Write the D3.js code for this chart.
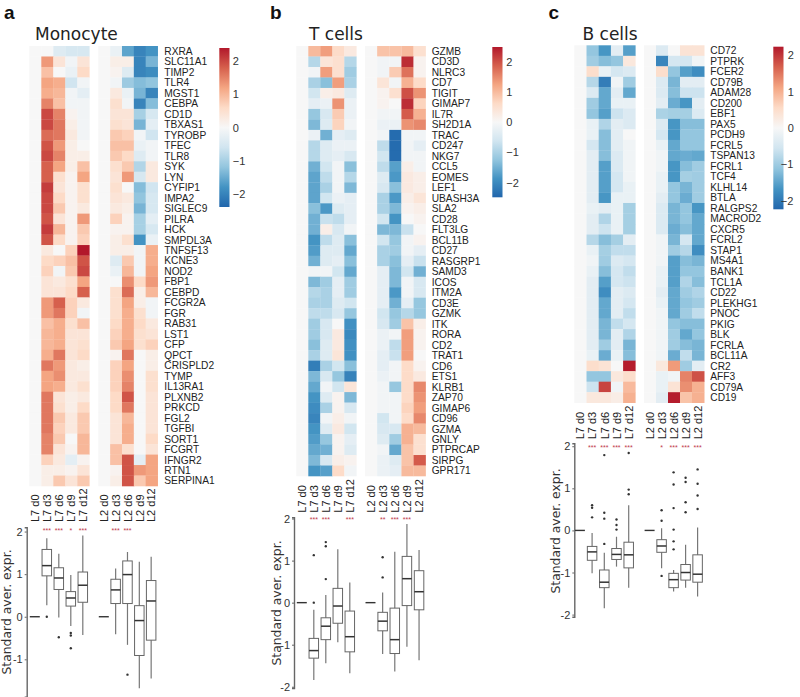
<!DOCTYPE html>
<html>

<head>
    <meta charset="utf-8">
    <script src="https://d3js.org/d3.v7.min.js"></script>

    <style type="text/css">
        body {
            margin: 0;
            background: white;
        }

        .gene {
            font-family: "Liberation Sans", sans-serif;
            font-size: 10.2px;
            fill: #222;
        }

        .title {
            font-family: "DejaVu Sans", sans-serif;
            font-size: 17px;
            fill: #222;
        }

        .letter {
            font-family: "Liberation Sans", sans-serif;
            font-size: 19px;
            font-weight: bold;
            fill: #111;
        }

        .ylabel {
            font-family: "DejaVu Sans", sans-serif;
            font-size: 12.4px;
            fill: #333;
        }

        .sample {
            font-family: "Liberation Sans", sans-serif;
            font-size: 11px;
            fill: #222;
        }

        .stars {
            font-family: "Liberation Sans", sans-serif;
            font-size: 7px;
            fill: #c0394b;
            text-anchor: middle;
        }

        .axis text {
            font-family: "Liberation Sans", sans-serif;
            font-size: 11px;
            fill: #333;
        }

        .axis path,
        .axis line {
            stroke: #666;
        }
    </style>
</head>

<body>
    <script>
        var days = ["d0", "d3", "d6", "d9", "d12"];
        var bars = [-2, -1, 0, 1, 2];

        // 9 class RdBu, low to high
        var heatColors = ["#2166ac", "#4393c3", "#92c5de", "#d1e5f0", "#f7f7f7", "#fddbc7", "#f4a582", "#d6604d", "#b2182b"];

        var genesMono = ["RXRA", "SLC11A1", "TIMP2", "TLR4", "MGST1", "CEBPA", "CD1D", "TBXAS1", "TYROBP", "TFEC", "TLR8", "SYK", "LYN", "CYFIP1", "IMPA2", "SIGLEC9", "PILRA", "HCK", "SMPDL3A", "TNFSF13", "KCNE3", "NOD2", "FBP1", "CEBPD", "FCGR2A", "FGR", "RAB31", "LST1", "CFP", "QPCT", "CRISPLD2", "TYMP", "IL13RA1", "PLXNB2", "PRKCD", "FGL2", "TGFBI", "SORT1", "FCGRT", "IFNGR2", "RTN1", "SERPINA1"];

        // L7 d0..d12 then L2 d0..d12
        var heatMono = [
            [0, 0, -.4, -.5, -.5, 0, -.2, -1.6, -2, -1.8],
            [0, 1.3, .4, -.1, .4, 0, .2, .2, -2, -1.4],
            [0, .9, 0, -.2, .6, 0, .1, -.4, -2, -1.9],
            [0, 1.2, 1.1, -.6, -.1, 0, -.1, -1.1, -1.3, -1.2],
            [0, 1.1, 1, -.1, -.3, 0, .3, -.2, -1.4, -2],
            [0, 1.5, .9, -.1, -.1, 0, .5, -.1, -2, -1.3],
            [0, 2, 1.5, .1, -.1, 0, .4, .4, -1, -.5],
            [0, 2, 1.6, .2, -.1, 0, .5, .4, -1.4, -.3],
            [0, 1.7, 1.6, .3, -.1, 0, .8, .7, -.1, -.6],
            [0, 1.9, 1.3, .2, 0, 0, .9, .9, -.2, -.1],
            [0, 2, 1.5, .2, .2, 0, .8, .6, -.4, -.1],
            [0, 1.8, 1.2, .2, .9, 0, .5, .8, -.9, .3],
            [0, 1.8, .5, .1, 1.2, 0, .4, 1.3, -.5, .3],
            [0, 2.1, .4, .1, .5, 0, .5, 0, -1.3, -.6],
            [0, 2, .6, .1, .5, 0, .4, .3, -1.2, -.5],
            [0, 2, .8, .1, .3, 0, .3, .2, -1.4, -.5],
            [0, 1.9, .4, .1, 1.3, 0, .7, .1, -1, -.3],
            [0, 2.1, 1, .1, .8, 0, .1, .1, -1, -.5],
            [0, 1.9, .6, .1, .7, 0, .2, .5, -1.8, -.2],
            [0, .3, 0, .7, 2.4, 0, .2, .2, -.1, 1.1],
            [0, .6, .7, .9, 1.9, 0, -.4, .8, -.1, 1.1],
            [0, .7, -.1, .8, 2, 0, -.2, 1, -.1, 1.2],
            [0, .4, .3, .5, 1.2, 0, 0, 1.4, .6, 1.3],
            [0, .4, .4, .6, 1.8, 0, .5, 1.7, .2, 1],
            [0, 1.3, 1.8, .7, .3, 0, .5, 1.2, .2, -.1],
            [0, 1.3, 1.6, .7, -.1, 0, .5, 1.1, .5, -.1],
            [0, .9, 1.1, .5, .9, 0, .6, 1.1, .6, .3],
            [0, 1, 1.1, .4, .4, 0, .7, 1.1, .5, .4],
            [0, 1, 1.1, .4, .5, 0, .8, 1.2, .5, .7],
            [0, 1.1, 1.6, .4, .6, 0, .1, 1.6, 0, .2],
            [0, 1.6, 1.3, .3, .2, 0, .7, 1.2, 0, .2],
            [0, 1.2, 1.4, .3, .3, 0, .7, 1.4, 0, .5],
            [0, 1.2, 1.1, .3, .5, 0, .7, 1.5, 0, .5],
            [0, 1.6, .4, .2, .3, 0, .6, 1.9, 0, .4],
            [0, 1.6, .5, .2, .6, 0, .6, 1.6, 0, .4],
            [0, 1.6, .8, .3, .8, 0, .4, 1, 0, .4],
            [0, 1.6, .7, .3, .8, 0, .4, 1.1, 0, .4],
            [0, 1.5, .8, 0, 1, 0, .4, 1.1, 0, .6],
            [0, 1.5, .4, .1, 1, 0, .9, .5, 0, .4],
            [0, .7, .3, -.3, .1, 0, .9, 1.9, -.3, 1.2],
            [0, .2, .2, .1, .4, 0, .1, 1.9, 1.3, 1.2],
            [0, .2, .8, .4, .8, 0, .2, 1.9, .8, 1.2]
        ];

        var genesT = ["GZMB", "CD3D", "NLRC3", "CD7", "TIGIT", "GIMAP7", "IL7R", "SH2D1A", "TRAC", "CD247", "NKG7", "CCL5", "EOMES", "LEF1", "UBASH3A", "SLA2", "CD28", "FLT3LG", "BCL11B", "CD27", "RASGRP1", "SAMD3", "ICOS", "ITM2A", "CD3E", "GZMK", "ITK", "RORA", "CD2", "TRAT1", "CD6", "ETS1", "KLRB1", "ZAP70", "GIMAP6", "CD96", "GZMA", "GNLY", "PTPRCAP", "SIRPG", "GPR171"];

        var heatT = [
            [0, 1, 1.3, .6, .3, 0, .9, .9, 1, .5],
            [0, -.9, .4, .5, -.9, 0, -.1, -.1, 2.3, .1],
            [0, -.1, 1.3, .5, -1.1, 0, -.1, .8, 1.7, .1],
            [0, -1, -1.3, 1.3, -1, 0, .4, -.1, 1.1, .6],
            [0, -.6, .2, .3, -.4, 0, .1, .5, 2, 1.4],
            [0, -.3, -.2, 1.4, -.2, 0, .1, 0, 2.3, .7],
            [0, -1.2, -.5, .8, -.2, 0, -.1, -.1, 1.9, 1.1],
            [0, -1.4, -.4, .7, -.1, 0, -.2, -.2, 1.4, 1.5],
            [0, -.2, -1.5, -.3, -.4, 0, -.1, -2.4, -.1, -.1],
            [0, -.9, -.4, -.2, -.2, 0, -.8, -2.4, -.1, -.3],
            [0, -.9, -.4, -.3, -.5, 0, -.6, -2.4, -.1, -.1],
            [0, -1.5, -.6, -.1, -1.3, 0, -.8, -1.7, .2, -.1],
            [0, -1.65, -.8, -.1, -.9, 0, -.4, -1.8, .3, .2],
            [0, -1.65, -1, -.1, -1.4, 0, -.5, -1.3, .3, .2],
            [0, -1.65, -.6, -.2, -.3, 0, -1, -1.8, .2, .4],
            [0, -1.3, -1.8, -.4, -.3, 0, -1, -1.4, .1, .2],
            [0, -1.5, -.7, -.8, -.3, 0, -.6, -1.85, 0, .1],
            [0, -1.5, .2, -.5, -.1, 0, -1.4, -1.4, -.7, 0],
            [0, -1.85, -.8, -.4, -1.3, 0, -.6, -1.2, -.1, .1],
            [0, -1.75, -.4, -.4, -1.6, 0, -1, -1.1, -.1, -.3],
            [0, -1.5, -.4, -.3, -1.3, 0, -1, -1.3, -.3, -.7],
            [0, -.1, -.1, -.6, -1.6, 0, -.3, -1.4, -.6, -1.5],
            [0, -1.4, -1.1, -.3, -1.1, 0, -.3, -1.4, -.1, -.5],
            [0, -.9, -1, -.3, -1.1, 0, -.3, -1.8, -.1, -.5],
            [0, -1, -1, -.4, -.6, 0, -.3, -1.5, -.3, -1.2],
            [0, -.8, -.8, -.5, -1.2, 0, -.6, -1.2, -.9, -1.2],
            [0, -1.1, -.5, 0, -1.9, 0, -.5, -1.1, .9, .2],
            [0, -1.1, -.5, .3, -2, 0, -.2, -.1, 1.3, .1],
            [0, -1.3, -.4, .3, -1.9, 0, -.2, -.8, 1.3, .1],
            [0, -1, -.4, .4, -1.9, 0, -.3, -.7, 1.3, 0],
            [0, -2.15, -1, -.6, -1.3, 0, -.3, -.1, .6, .1],
            [0, -1.4, -.5, -1.2, -2.1, 0, -.2, -.1, .6, .3],
            [0, -1.6, -.1, -.6, .4, 0, -.1, -1.2, .6, 1.5],
            [0, -1.85, -.4, .1, -1.4, 0, -.1, -.1, .6, 1.4],
            [0, -1.95, -1, .1, -.5, 0, -.1, -.1, .7, 1.3],
            [0, -2.05, -.1, .2, -.1, 0, -.6, -.1, .6, 1.5],
            [0, -1.85, -.4, .3, -.6, 0, -.5, -.5, 1.1, 1],
            [0, -1.75, -1.2, .1, -.3, 0, -.4, -1.1, 1.1, .5],
            [0, -1.6, -1.5, .1, -.4, 0, -.1, -1.6, .9, .5],
            [0, -1.4, -.5, .2, .1, 0, -.2, -.4, .9, 1.9],
            [0, -1.85, -1.7, .6, -.1, 0, -.2, -.3, 1, 1]
        ];

        var genesB = ["CD72", "PTPRK", "FCER2", "CD79B", "ADAM28", "CD200", "EBF1", "PAX5", "PCDH9", "FCRL5", "TSPAN13", "FCRL1", "TCF4", "KLHL14", "BTLA", "RALGPS2", "MACROD2", "CXCR5", "FCRL2", "STAP1", "MS4A1", "BANK1", "TCL1A", "CD22", "PLEKHG1", "PNOC", "PKIG", "BLK", "FCRLA", "BCL11A", "CR2", "AFF3", "CD79A", "CD19"];

        var heatB = [
            [0, -1.1, -1.65, -.3, -1.55, 0, -.4, 0, .4, .4],
            [0, -1, -1.2, -1.1, .3, 0, -1.85, -.5, -.5, -.1],
            [0, .5, -.2, -.5, -.4, 0, .5, -1.1, -1.55, -1.75],
            [0, -.8, -1.95, -.1, -1, 0, -.4, -1.3, -.3, -.3],
            [0, -.4, -1.45, -.3, -1.45, 0, -.4, -1.2, -.6, -.6],
            [0, -1, -1.45, -.2, -.2, 0, -.3, -1.4, -1.65, -.3],
            [0, -1.1, -1.55, -.6, -.4, 0, -.9, -.95, -.95, -.4],
            [0, -.2, -.85, -.3, -.4, 0, -.4, -1.65, -1.2, -1.2],
            [0, -.2, -1.2, -.3, 0, 0, -.5, -1.65, -1.1, -1.1],
            [0, -.5, -1.2, -.3, -.1, 0, -.2, -1.45, -1.1, -1.1],
            [0, -.3, -1.2, -.4, -.1, 0, -.1, -1.45, -1.4, -1.45],
            [0, -.3, -1.55, -.4, -.1, 0, -.1, -1.65, -1.2, -1],
            [0, -.3, -1.55, -.5, -.1, 0, -.2, -1.65, -.95, -1],
            [0, -.3, -1.55, -.5, -.2, 0, -.2, -1.1, -1.3, -1],
            [0, -.3, -1.65, -.2, -.2, 0, -.3, -1.1, -1.4, -1],
            [0, -.2, -.3, -.2, -.95, 0, -.4, -1.3, -1.1, -1.65],
            [0, -.3, -.85, -.2, -.95, 0, -.4, -1.3, -1.1, -1.45],
            [0, -.3, -.6, -.2, -.95, 0, -.4, -1.4, -1.2, -1.45],
            [0, -.8, -1.2, -.95, -.3, 0, -.1, -1.3, -.5, -1.45],
            [0, -.2, -.95, -.7, -.7, 0, -.1, -1, -.8, -1.75],
            [0, -.1, -1, -.4, -.5, 0, -.1, -1.55, -1.2, -1.3],
            [0, -.2, -1.2, -.5, -.7, 0, -.2, -1.55, -1.1, -1.1],
            [0, -.3, -1.55, -.5, -.6, 0, -.2, -1.55, -.85, -1.2],
            [0, -.3, -1.75, -.3, -.4, 0, -.3, -1.45, -1, -.85],
            [0, -.3, -1.45, -.3, -.5, 0, -.2, -1.45, -1.1, -1],
            [0, -.3, -1.45, -.3, -.7, 0, -.1, -1.45, -1, -.7],
            [0, -.3, -1.3, -.7, -.5, 0, -.1, -1.1, -1.2, -1.2],
            [0, -.3, -1.3, -.3, -.85, 0, -.1, -1, -1.45, -1.1],
            [0, -.3, -1, -.3, -1.3, 0, -.1, -1, -1.2, -1.3],
            [0, -.2, -1.4, -.2, -1.2, 0, -.1, -1.4, -.7, -1.3],
            [0, .5, .4, 0, 2.2, 0, .3, 1.2, -1, -.3],
            [0, -1.1, -1.1, .3, .5, 0, -.2, -.1, 1.4, 1.8],
            [0, -.6, 1.9, -.1, .9, 0, -.2, .4, 1.3, 1],
            [0, .3, .3, .2, 1, 0, -.3, 2.2, .8, 1]
        ];

        // box stats per sample: whisker low, q1, median, q3, whisker high
        var boxMono = [
            [0, 0, 0, 0, 0], [.27, .96, 1.2, 1.58, 1.84], [-.02, .64, .91, 1.15, 1.48], [-.22, .25, .44, .59, .98], [-.43, .34, .74, 1.05, 1.91],
            [0, 0, 0, 0, 0], [-.41, .31, .63, .88, 1.13], [-.66, .31, .99, 1.31, 1.52], [-1.68, -.91, -.09, .26, 1.29], [-1.45, -.55, .37, .85, 1.41]
        ];
        var outMono = [[], [0], [-.48], [-.38, -.44, -.74], [], [], [], [-1.36], [], []];
        var starsMono = ["", "***", "***", "*", "***", "", "***", "***", "", ""];

        var boxT = [
            [0, 0, 0, 0, 0], [-1.84, -1.32, -1.14, -.85, -.17], [-1.44, -.88, -.56, -.36, .18], [-.94, -.49, -.08, .34, 1.27], [-1.68, -1.17, -.81, -.2, .48],
            [0, 0, 0, 0, 0], [-1.22, -.67, -.44, -.23, .24], [-1.64, -1.21, -.88, -.13, 1.21], [-1.05, -.07, .57, 1.1, 1.87], [-1.37, -.17, .26, .76, 1.25]
        ];
        var outT = [[], [0, 1.13], [.56, 1.34, 1.44], [], [], [], [.6, 1.08], [], [], []];
        var starsT = ["", "***", "***", "", "***", "", "**", "***", "***", ""];

        var boxB = [
            [0, 0, 0, 0, 0], [-1.02, -.71, -.51, -.38, -.06], [-1.85, -1.36, -1.23, -.94, -.53], [-.86, -.69, -.57, -.43, -.15], [-1.36, -.89, -.58, -.28, .6],
            [0, 0, 0, 0, 0], [-.9, -.52, -.37, -.22, .05], [-1.45, -1.36, -1.17, -1.02, -.94], [-1.36, -1.18, -1, -.81, -.34], [-1.57, -1.23, -1.04, -.58, .07]
        ];
        var outB = [[], [.31, .54, .6], [-.32, .28, .42, 1.79], [.02, .13, .26], [.86, .97, 1.84], [], [-1.08, .23, .48], [-.45, -.26, .02, .53, 1.09, 1.38], [.43, .67, 1.15, 1.25], [.51, .83, 1.11, 1.45]];
        var starsB = ["", "***", "***", "***", "***", "", "*", "***", "***", "***"];

        var svg = d3.select("body")
            .append("svg")
            .attr("width", 800)
            .attr("height", 697);

        function drawPanel(p) {
            var g = svg.append("g");

            g.append("text").attr("class", "letter").attr("x", p.letterX).attr("y", 19).text(p.letter);
            g.append("text").attr("class", "title").attr("x", p.titleX).attr("y", 39.5).text(p.title);

            // heatmap scales
            var rows = d3.scaleBand().domain(p.genes).range([p.heatTop, p.heatBottom]);
            var xL7 = d3.scaleBand().domain(days).range(p.l7);
            var xL2 = d3.scaleBand().domain(days).range(p.l2);
            var color = d3.scaleLinear()
                .domain(d3.range(9).map(function (i) { return -p.cmax + i * p.cmax / 4; }))
                .range(heatColors);

            var cells = [];
            p.heat.forEach(function (row, r) {
                row.forEach(function (v, c) {
                    cells.push({ gene: p.genes[r], col: c, value: v });
                });
            });

            function cellX(d) {
                return d.col < 5 ? xL7(days[d.col]) : xL2(days[d.col - 5]);
            }

            g.selectAll("rect.cell")
                .data(cells)
                .enter()
                .append("rect")
                .attr("class", "cell")
                .attr("x", cellX)
                .attr("y", function (d) { return rows(d.gene); })
                .attr("width", xL7.bandwidth() + 0.3)
                .attr("height", rows.bandwidth() + 0.3)
                .attr("fill", function (d) { return color(d.value); });

            g.selectAll("text.gene")
                .data(p.genes)
                .enter()
                .append("text")
                .attr("class", "gene")
                .attr("x", p.geneX)
                .attr("y", function (d) { return rows(d) + rows.bandwidth() / 2 + 3.7; })
                .text(function (d) { return d; });

            // colorbar
            var barY = d3.scaleLinear().domain([-p.cmax, p.cmax]).range(p.barRange);
            var gradId = "grad" + p.letter;
            var grad = svg.append("defs").append("linearGradient")
                .attr("id", gradId)
                .attr("x1", 0).attr("x2", 0).attr("y1", 1).attr("y2", 0);
            heatColors.forEach(function (c, i) {
                grad.append("stop").attr("offset", (i / 8 * 100) + "%").attr("stop-color", c);
            });
            g.append("rect")
                .attr("x", p.barX)
                .attr("y", p.barRange[1])
                .attr("width", 10.2)
                .attr("height", p.barRange[0] - p.barRange[1])
                .attr("fill", "url(#" + gradId + ")");

            var barAxis = g.append("g")
                .attr("class", "axis")
                .attr("transform", "translate(" + (p.barX + 10) + ",0)")
                .call(d3.axisRight(barY).tickValues(bars).tickSize(0).tickPadding(p.barPad)
                    .tickFormat(function (d) { return d < 0 ? "\u2212" + (-d) : String(d); }));
            barAxis.select(".domain").remove();
            barAxis.selectAll("text").attr("x", function (d) {
                return d < 0 ? p.barPad + p.barNeg : p.barPad;
            });

            // sample labels under the heatmap
            var samples = days.map(function (d) { return { name: "L7 " + d, x: xL7(d) }; })
                .concat(days.map(function (d) { return { name: "L2 " + d, x: xL2(d) }; }));

            g.selectAll("text.sample")
                .data(samples)
                .enter()
                .append("text")
                .attr("class", "sample")
                .attr("transform", function (d) {
                    return "translate(" + (d.x + xL7.bandwidth() / 2 + 3.8) + "," + p.sampleY + ") rotate(-90)";
                })
                .text(function (d) { return d.name; });

            // boxplots
            var y = d3.scaleLinear().domain(p.yDomain).range(p.yRange);

            var axis = g.append("g")
                .attr("class", "axis")
                .attr("transform", "translate(" + p.axisX + ",0)")
                .call(d3.axisLeft(y).tickValues(p.yTicks).tickSizeOuter(0).tickSize(2).tickPadding(2).tickFormat(function (d) { return String(d); }));
            axis.select(".domain").attr("stroke-width", 1.4);

            g.append("text")
                .attr("class", "ylabel")
                .attr("text-anchor", "middle")
                .attr("transform", "translate(" + p.ylabelX + "," + p.ylabelY + ") rotate(-90)")
                .text("Standard aver. expr.");

            var w = 9.5;
            p.box.forEach(function (b, i) {
                var cx = samples[i].x + xL7.bandwidth() / 2 - 0.5;
                var bg = g.append("g");

                if (b[4] === b[0]) {
                    // d0 is the reference, only a flat line
                    bg.append("line")
                        .attr("x1", cx - 5).attr("x2", cx + 5)
                        .attr("y1", y(b[2])).attr("y2", y(b[2]))
                        .attr("stroke", "#333").attr("stroke-width", 1.4);
                    return;
                }

                bg.append("line")
                    .attr("x1", cx).attr("x2", cx)
                    .attr("y1", y(b[0])).attr("y2", y(b[4]))
                    .attr("stroke", "#777").attr("stroke-width", 1.2);
                bg.append("rect")
                    .attr("x", cx - w / 2)
                    .attr("y", y(b[3]))
                    .attr("width", w)
                    .attr("height", y(b[1]) - y(b[3]))
                    .attr("fill", "white")
                    .attr("stroke", "#666")
                    .attr("stroke-width", 1);
                bg.append("line")
                    .attr("x1", cx - w / 2).attr("x2", cx + w / 2)
                    .attr("y1", y(b[2])).attr("y2", y(b[2]))
                    .attr("stroke", "#333").attr("stroke-width", 1.5);

                bg.selectAll("circle")
                    .data(p.out[i])
                    .enter()
                    .append("circle")
                    .attr("cx", cx)
                    .attr("cy", function (d) { return y(d); })
                    .attr("r", 1.2)
                    .attr("fill", "#333");

                if (p.stars[i]) {
                    bg.append("text")
                        .attr("class", "stars")
                        .attr("x", cx)
                        .attr("y", p.starY)
                        .text(p.stars[i]);
                }
            });
        }

        drawPanel({
            letter: "a", letterX: 4, title: "Monocyte", titleX: 35,
            genes: genesMono, heat: heatMono, box: boxMono, out: outMono, stars: starsMono,
            l7: [29.3, 89.3], l2: [98.3, 157.5], heatTop: 46, heatBottom: 486, geneX: 164.3,
            cmax: 2.4, barX: 219.3, barRange: [207, 48], barPad: 3.5, barNeg: 0,
            sampleY: 522, axisX: 26.7, yDomain: [-1.88, 2.1], yRange: [696.8, 527.3], yTicks: [2, 1, 0, -1],
            ylabelX: 11, ylabelY: 612, starY: 532.5
        });

        drawPanel({
            letter: "b", letterX: 270, title: "T cells", titleX: 309,
            genes: genesT, heat: heatT, box: boxT, out: outT, stars: starsT,
            l7: [296.3, 356.3], l2: [365, 425.7], heatTop: 46, heatBottom: 476, geneX: 431.7,
            cmax: 2.48, barX: 492.3, barRange: [197.3, 47], barPad: 4, barNeg: 0,
            sampleY: 512.7, axisX: 294, yDomain: [-2.03, 2.03], yRange: [688, 517.3], yTicks: [2, 1, 0, -1, -2],
            ylabelX: 281, ylabelY: 603, starY: 521.5
        });

        drawPanel({
            letter: "c", letterX: 548.5, title: "B cells", titleX: 582.5,
            genes: genesB, heat: heatB, box: boxB, out: outB, stars: starsB,
            l7: [574.3, 635.3], l2: [644, 704], heatTop: 45.3, heatBottom: 402.7, geneX: 710.3,
            cmax: 2.24, barX: 773.3, barRange: [209.3, 46.7], barPad: 4.5, barNeg: -7,
            sampleY: 439.3, axisX: 574.3, yDomain: [-2.05, 2.07], yRange: [616.7, 443.3], yTicks: [2, 1, 0, -1, -2],
            ylabelX: 560, ylabelY: 531, starY: 450.2
        });
    </script>
</body>

</html>
